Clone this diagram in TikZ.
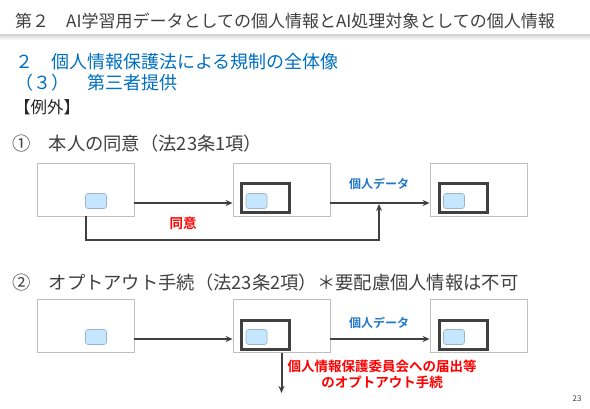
\documentclass[tikz,border=0pt]{standalone}
\usepackage{fontspec}
\setmainfont{Noto Sans CJK JP}[BoldFont={* Bold}]
\usetikzlibrary{positioning,arrows.meta}
\definecolor{ink}{HTML}{404040}
\definecolor{headblue}{HTML}{0070C0}
\definecolor{datablue}{HTML}{1F78C8}
\definecolor{boxgray}{HTML}{BFBFBF}
\definecolor{chipfill}{HTML}{C5E6FF}
\definecolor{chipline}{HTML}{9DB4C6}
\definecolor{alertred}{HTML}{FF0000}
\tikzset{
  party/.style={draw=boxgray,line width=0.8pt,fill=white,minimum width=97pt,minimum height=53pt,inner sep=0pt},
  holder/.style={draw=ink,line width=3pt,minimum width=48pt,minimum height=29pt,inner sep=0pt},
  chip/.style={draw=chipline,fill=chipfill,rounded corners=2.5pt,line width=0.6pt,minimum width=21pt,minimum height=15pt,inner sep=0pt},
  flow/.style={draw=ink,line width=2pt,-{Stealth[length=7pt,width=6pt]}},
  txt/.style={anchor=west,inner sep=0pt}
}
\begin{document}
\begin{tikzpicture}[x=1pt,y=-1pt]
\useasboundingbox[fill=white] (0,0) rectangle (590,408);
% header
\node[txt,text=ink,font=\fontsize{17}{19}\selectfont] (title) at (15,21) {第２　AI学習用データとしての個人情報とAI処理対象としての個人情報};
\shade[top color=black!18,bottom color=white] (0,34) rectangle (590,40);
\node[txt,text=headblue,font=\fontsize{18}{20}\selectfont] (head) at (15,62) {２　個人情報保護法による規制の全体像};
\node[txt,text=headblue,font=\fontsize{18}{20}\selectfont] (sub) at (15,83) {（３）　第三者提供};
\node[txt,text=black!85,font=\fontsize{16.5}{18}\selectfont] (exc) at (14,107) {【例外】};
% case 1
\node[txt,text=ink,font=\fontsize{18.3}{20}\selectfont] (case1) at (12,144) {①　本人の同意（法23条1項）};
\node[party] (p1) at (85.5,189.5) {};
\node[party] (p2) at (281.5,189.5) {};
\node[party] (p3) at (478.5,189.5) {};
\node[holder] (h2) at (265.5,198) {};
\node[holder] (h3) at (463.5,198) {};
\node[chip] (c1) at (96,201) {};
\node[chip] (c2) at (256.5,201) {};
\node[chip] (c3) at (454,201) {};
\draw[flow] ([yshift=-13.5pt]p1.east) -- ([yshift=-13.5pt]p2.west);
\draw[flow] ([yshift=-13.5pt]p2.east) -- ([yshift=-13.5pt]p3.west);
\coordinate (j1) at (379,204);
\coordinate (k1) at (379,240);
\draw[flow] (p1.south) |- (k1) -- (j1);
\node[text=datablue,font=\fontsize{12}{14}\selectfont\bfseries] (d1) at (379,184) {個人データ};
\node[text=alertred,font=\fontsize{13.5}{15}\selectfont\bfseries] (ok1) at (183,223) {同意};
% case 2
\node[txt,text=ink,font=\fontsize{18.3}{20}\selectfont] (case2) at (12,283) {②　オプトアウト手続（法23条2項）＊要配慮個人情報は不可};
\node[party] (p4) at (85.5,326) {};
\node[party] (p5) at (281.5,326) {};
\node[party] (p6) at (478.5,326) {};
\node[holder] (h5) at (265.5,334.5) {};
\node[holder] (h6) at (463.5,334.5) {};
\node[chip] (c4) at (96,337) {};
\node[chip] (c5) at (256.5,337) {};
\node[chip] (c6) at (454,337) {};
\draw[flow] ([yshift=-13pt]p4.east) -- ([yshift=-13pt]p5.west);
\draw[flow] ([yshift=-13pt]p5.east) -- ([yshift=-13pt]p6.west);
\coordinate (e5) at (281.5,393);
\draw[flow] (p5.south) -- (e5);
\node[text=datablue,font=\fontsize{12}{14}\selectfont\bfseries] (d2) at (379,323) {個人データ};
\node[text=alertred,font=\fontsize{13.5}{15.5}\selectfont\bfseries,align=center,inner sep=0pt] (opt) at (382,374.5) {個人情報保護委員会への届出等\\のオプトアウト手続};
\node[text=ink,font=\fontsize{8}{9}\selectfont] (pg) at (577,399) {23};
\end{tikzpicture}
\end{document}
